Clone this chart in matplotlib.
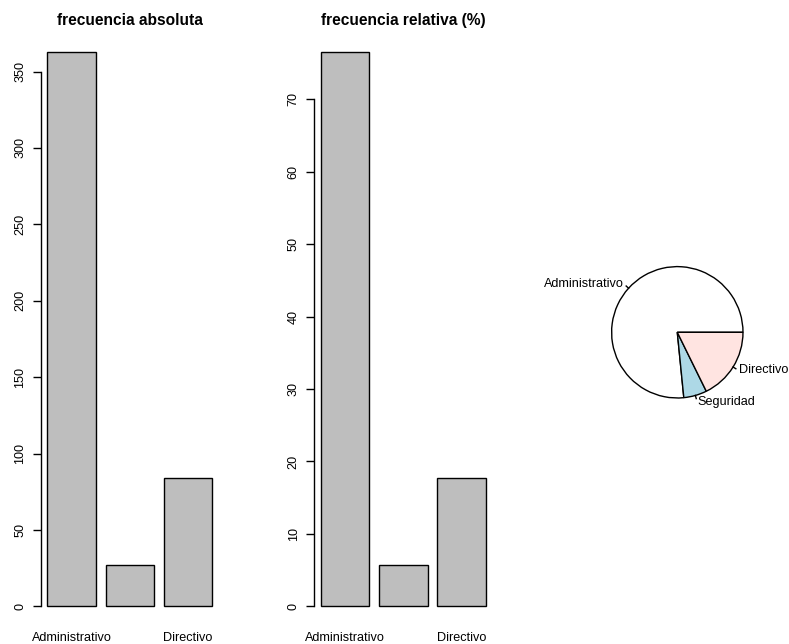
import numpy as np
import matplotlib
matplotlib.use("Agg")
import matplotlib.pyplot as plt

categories = ["Administrativo", "Seguridad", "Directivo"]
counts = [363, 27, 84]
shown_xlabels = [True, False, True]
abs_ticks = [0, 50, 100, 150, 200, 250, 300, 350]
rel_ticks = [0, 10, 20, 30, 40, 50, 60, 70]
pie_colors = ["white", "#ADD8E6", "#FFE4E1"]
titles = ["frecuencia absoluta", "frecuencia relativa (%)"]

total = sum(counts)
relative = [100.0 * c / total for c in counts]

plt.rcParams['font.family'] = ['Liberation Sans', 'DejaVu Sans']
W, H, DPI = 789, 644, 100
fig = plt.figure(figsize=(W / DPI, H / DPI), dpi=DPI)

def px_axes(left, top, right, bottom):
    return fig.add_axes([left / W, 1 - bottom / H, (right - left) / W, (bottom - top) / H])

def barpanel(ax, values, ticks, title):
    x = 0.2 + 1.2 * np.arange(len(values)) + 0.5
    ax.bar(x, values, width=1.0, color="#BEBEBE", edgecolor="black", linewidth=1.0)
    lo, hi = 0.2, 0.2 + 1.2 * len(values) - 0.2
    pad = 0.04 * (hi - lo)
    ax.set_xlim(lo - pad, hi + pad)
    ymax = max(values)
    ax.set_ylim(-0.04 * ymax, 1.04 * ymax)
    for s in ["top", "right", "bottom"]:
        ax.spines[s].set_visible(False)
    ax.spines["left"].set_bounds(ticks[0], ticks[-1])
    ax.spines["left"].set_linewidth(1.0)
    ax.set_yticks(ticks)
    ax.set_yticklabels([str(t) for t in ticks], rotation=90, va="center", fontsize=9.1)
    ax.tick_params(axis="y", length=5.5, width=1.0, pad=5)
    ax.set_xticks(x)
    labs = [c if s else "" for c, s in zip(categories, shown_xlabels)]
    ax.set_xticklabels(labs, fontsize=9.1)
    ax.tick_params(axis="x", length=0, pad=2.5)
    ax.set_title(title, fontsize=11.2, fontweight="bold", pad=3)

ax1 = px_axes(40.7, 29.5, 218.9, 628.5)
barpanel(ax1, counts, abs_ticks, titles[0])
ax2 = px_axes(314.4, 29.5, 492.3, 628.5)
barpanel(ax2, relative, rel_ticks, titles[1])

# pie
cx, cy, half = 677.3, 332.3, 82.1
ax3 = px_axes(cx - half, cy - half, cx + half, cy + half)
r = 0.8
ax3.pie(counts, radius=r, startangle=0, counterclock=True, colors=pie_colors,
        wedgeprops=dict(edgecolor="black", linewidth=1.0))
ax3.set_xlim(-1, 1)
ax3.set_ylim(-1, 1)
ax3.set_aspect("equal")
ax3.axis("off")
cum = np.cumsum([0] + counts) / total
for i, name in enumerate(categories):
    mid = np.pi * (cum[i] + cum[i + 1])
    c, s = np.cos(mid), np.sin(mid)
    ax3.plot([r * c, 1.05 * r * c], [r * s, 1.05 * r * s], color="black", linewidth=1.0)
    ax3.text(1.1 * r * c, 1.1 * r * s, name, ha="left" if c > 0 else "right",
             va="center", fontsize=9.1, clip_on=False)

fig.savefig("out.png", dpi=DPI)
